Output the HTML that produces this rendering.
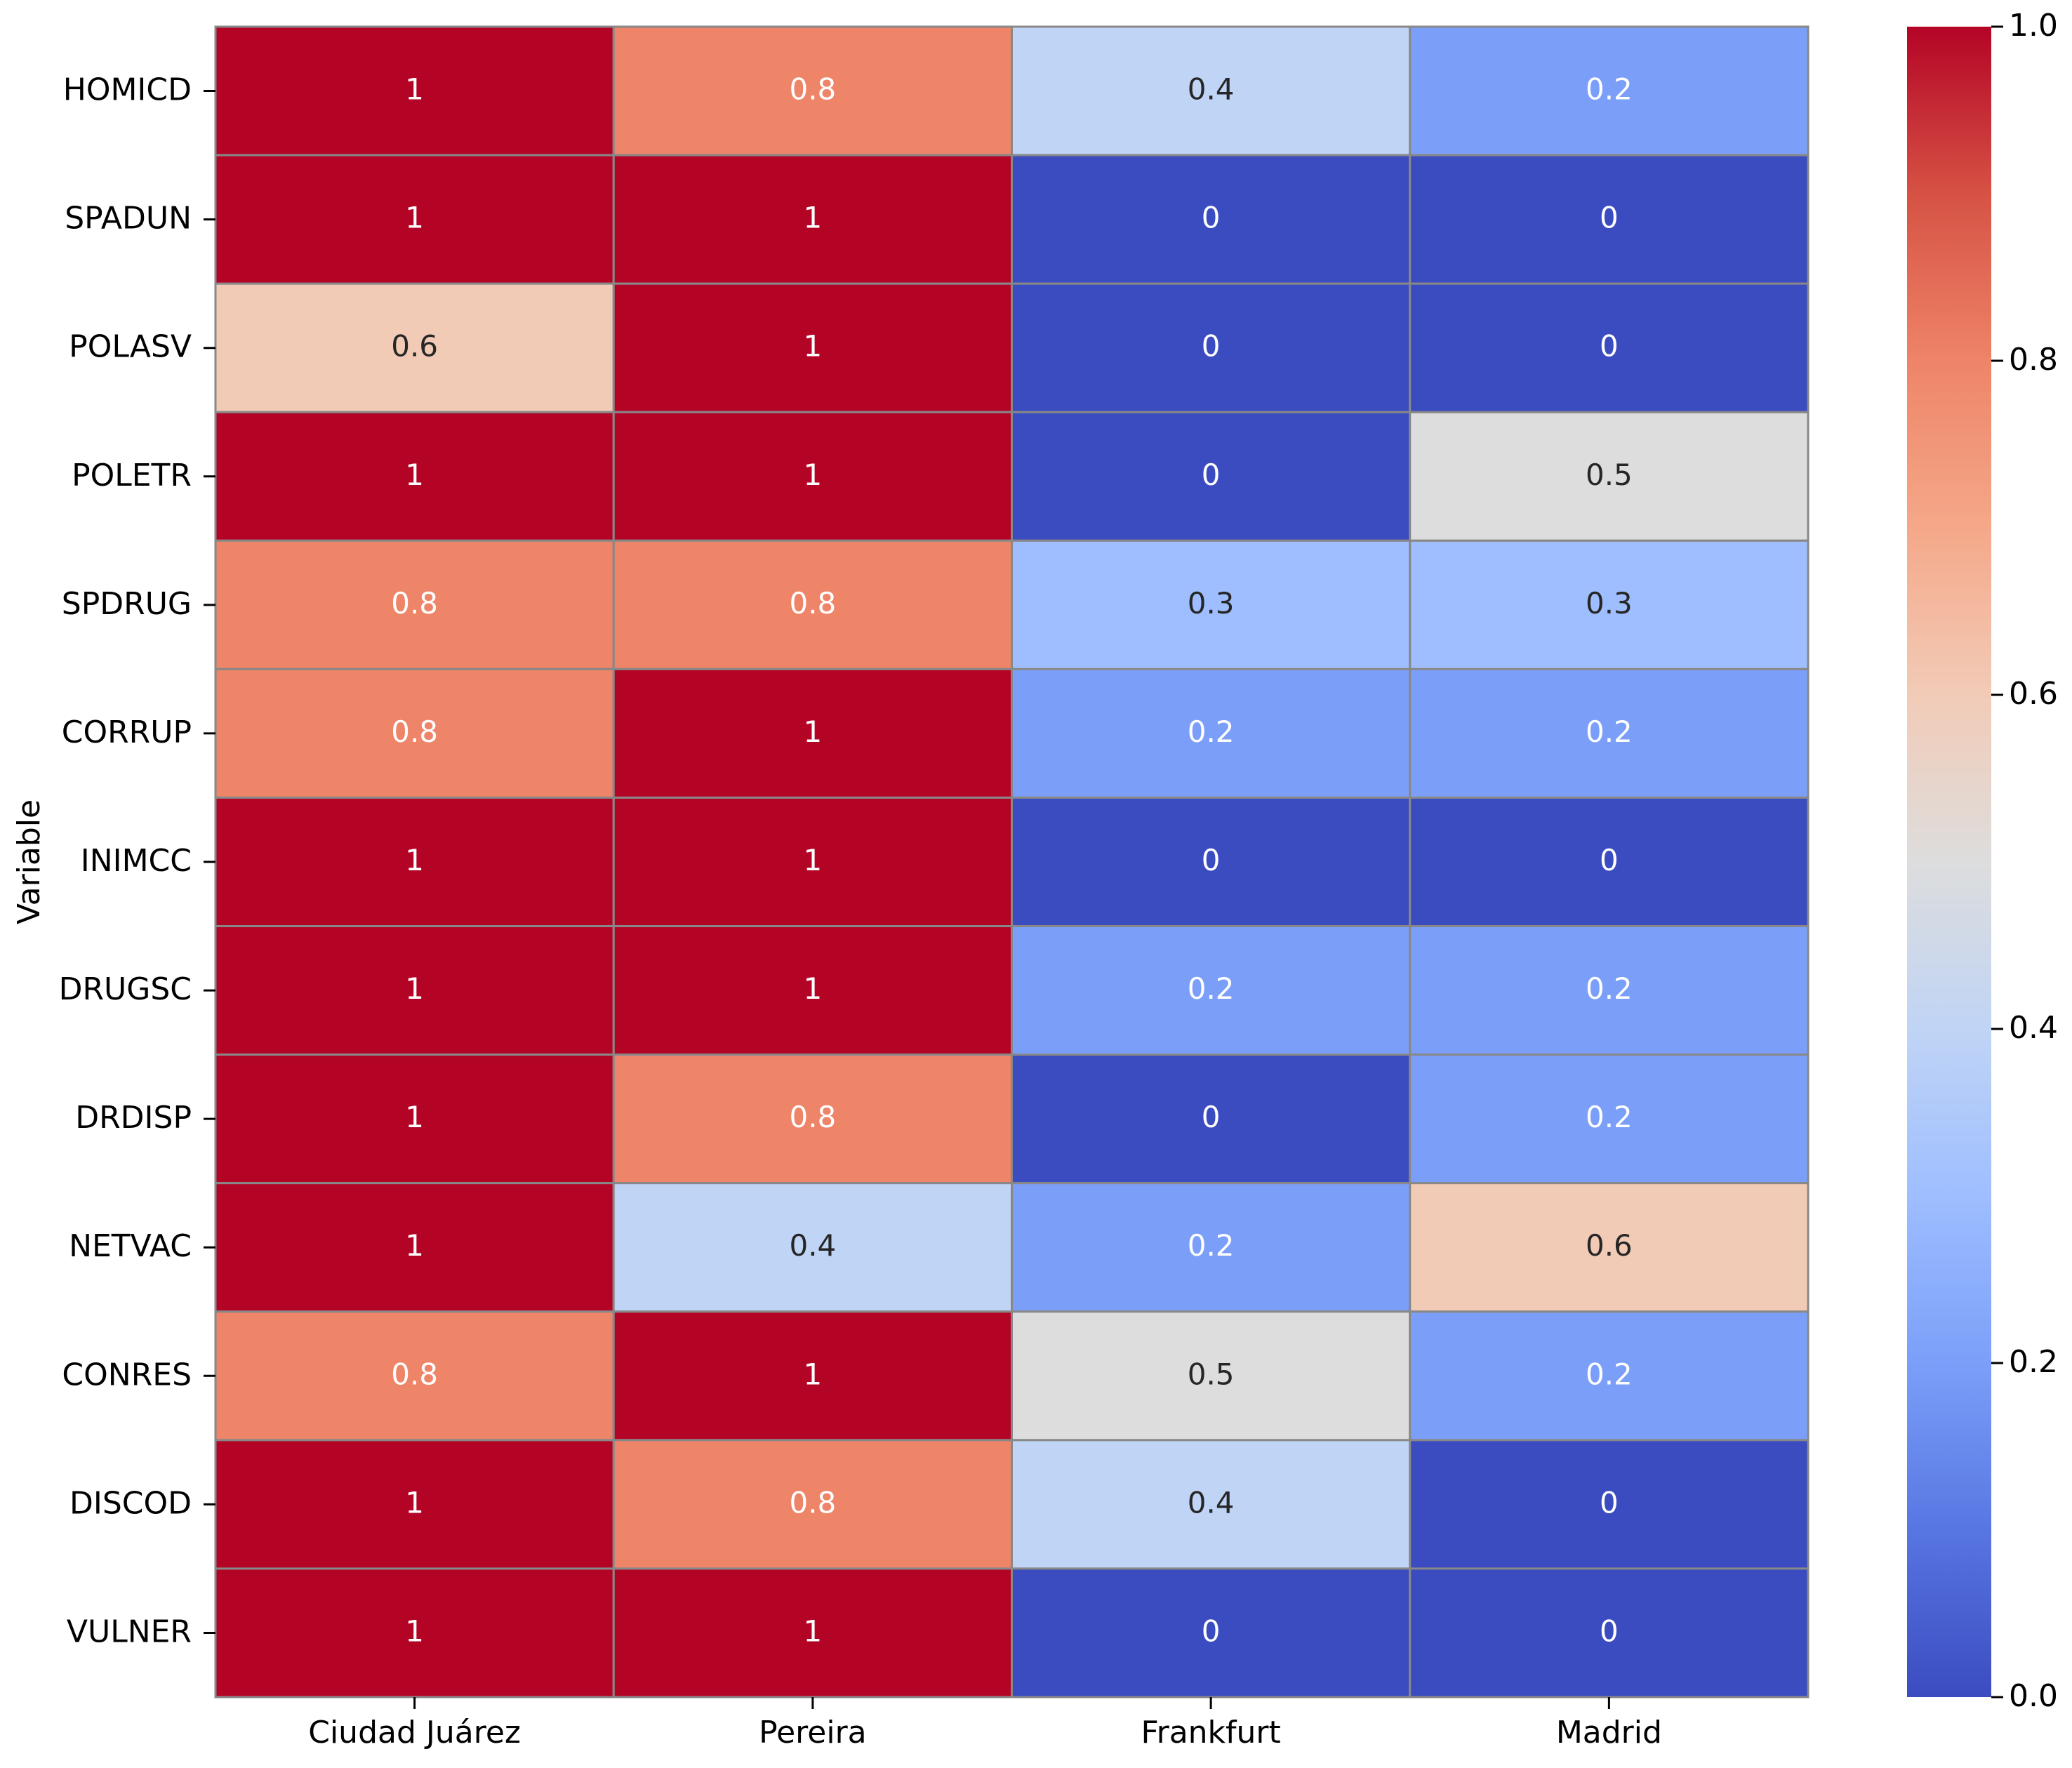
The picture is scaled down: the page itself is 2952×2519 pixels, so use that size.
<!DOCTYPE html>
<html><head><meta charset="utf-8">
<style>
html,body{margin:0;padding:0;background:#fff;}
svg{display:block;font-family:"DejaVu Sans","Liberation Sans",sans-serif;}
</style></head>
<body>
<svg id="chart" width="2952" height="2519" viewBox="0 0 2952 2519" xmlns="http://www.w3.org/2000/svg">
<defs>
<linearGradient id="cbgrad" x1="0" y1="1" x2="0" y2="0"></linearGradient>
</defs>
<g id="cells"></g>
<g id="yaxis"></g>
<g id="xaxis"></g>
<g id="cbar"></g>
<text x="0" y="0" transform="translate(56,1228) rotate(-90)" text-anchor="middle" font-size="44" fill="#000">Variable</text>
</svg>
<script>
const rows = ["HOMICD","SPADUN","POLASV","POLETR","SPDRUG","CORRUP","INIMCC","DRUGSC","DRDISP","NETVAC","CONRES","DISCOD","VULNER"];
const cols = ["Ciudad Juárez","Pereira","Frankfurt","Madrid"];
const valCiudad = [1,1,0.6,1,0.8,0.8,1,1,1,1,0.8,1,1];
const valPereira = [0.8,1,1,1,0.8,1,1,1,0.8,0.4,1,0.8,1];
const valFrankfurt = [0.4,0,0,0,0.3,0.2,0,0.2,0,0.2,0.5,0.4,0];
const valMadrid = [0.2,0,0,0.5,0.3,0.2,0,0.2,0.2,0.6,0.2,0,0];
const cbTicks = [0,0.2,0.4,0.6,0.8,1.0];
const series = [valCiudad,valPereira,valFrankfurt,valMadrid];

const L=307,R=2576,T=38,B=2418;
const cw=(R-L)/cols.length, rh=(B-T)/rows.length;
const xOf=i=>L+i*cw, yOf=j=>T+j*rh;
const CBL=2717,CBR=2837;
const cbY=v=>B-v*(B-T);
const NS="http://www.w3.org/2000/svg";
const anchors=[[0,59,76,192],[0.1,88,118,226],[0.2,123,159,249],[0.3,158,190,255],[0.4,192,212,245],[0.5,221,221,221],[0.6,242,203,183],[0.7,245,168,137],[0.8,238,132,104],[0.9,214,82,68],[1,180,4,38]];
function cmap(v){
  for(let i=0;i<anchors.length-1;i++){
    const a=anchors[i],b=anchors[i+1];
    if(v<=b[0]){const t=(v-a[0])/(b[0]-a[0]);
      return [1,2,3].map(k=>Math.round(a[k]+(b[k]-a[k])*t));}
  }
  return [180,4,38];
}
function mk(tag,attrs,parent){const e=document.createElementNS(NS,tag);for(const k in attrs)e.setAttribute(k,attrs[k]);parent.appendChild(e);return e;}
const cells=document.getElementById('cells');
series.forEach((vals,i)=>{
  vals.forEach((v,j)=>{
    const c=cmap(v);
    const r=mk('rect',{x:xOf(i),y:yOf(j),width:cw,height:rh,fill:`rgb(${c})`,stroke:'#888',"stroke-width":3},cells);
    
    
    const lum=0.2126*c[0]+0.7152*c[1]+0.0722*c[2];
    const t=mk('text',{x:xOf(i)+cw/2,y:yOf(j)+rh/2+12,"text-anchor":"middle","font-size":42,fill:lum>170?'#262626':'#fff'},cells);
    t.textContent=String(v);
    
    
  });
});
const ya=document.getElementById('yaxis');
rows.forEach((r,j)=>{
  const cy=yOf(j)+rh/2;
  mk('line',{x1:290,x2:L,y1:cy,y2:cy,stroke:'#000',"stroke-width":3},ya);
  const t=mk('text',{x:273,y:cy+13,"text-anchor":"end","font-size":44,fill:'#000'},ya);
  t.textContent=r;
  
  
});
const xa=document.getElementById('xaxis');
cols.forEach((c,i)=>{
  const cx=xOf(i)+cw/2;
  mk('line',{x1:cx,x2:cx,y1:B,y2:B+17,stroke:'#000',"stroke-width":3},xa);
  const t=mk('text',{x:cx,y:2483,"text-anchor":"middle","font-size":44,fill:'#000'},xa);
  t.textContent=c;
  
  
});
const g=document.getElementById('cbgrad');
anchors.forEach(a=>{mk('stop',{offset:a[0],"stop-color":`rgb(${a[1]},${a[2]},${a[3]})`},g);});
const cb=document.getElementById('cbar');
const cr=mk('rect',{x:CBL,y:T,width:CBR-CBL,height:B-T,fill:'url(#cbgrad)'},cb);


cbTicks.forEach(v=>{
  const y=cbY(v);
  mk('line',{x1:CBR,x2:CBR+17,y1:y,y2:y,stroke:'#000',"stroke-width":3},cb);
  const t=mk('text',{x:2862,y:y+13,"font-size":44,fill:'#000'},cb);
  t.textContent=v.toFixed(1);
  
  
});
</script>
</body></html>
